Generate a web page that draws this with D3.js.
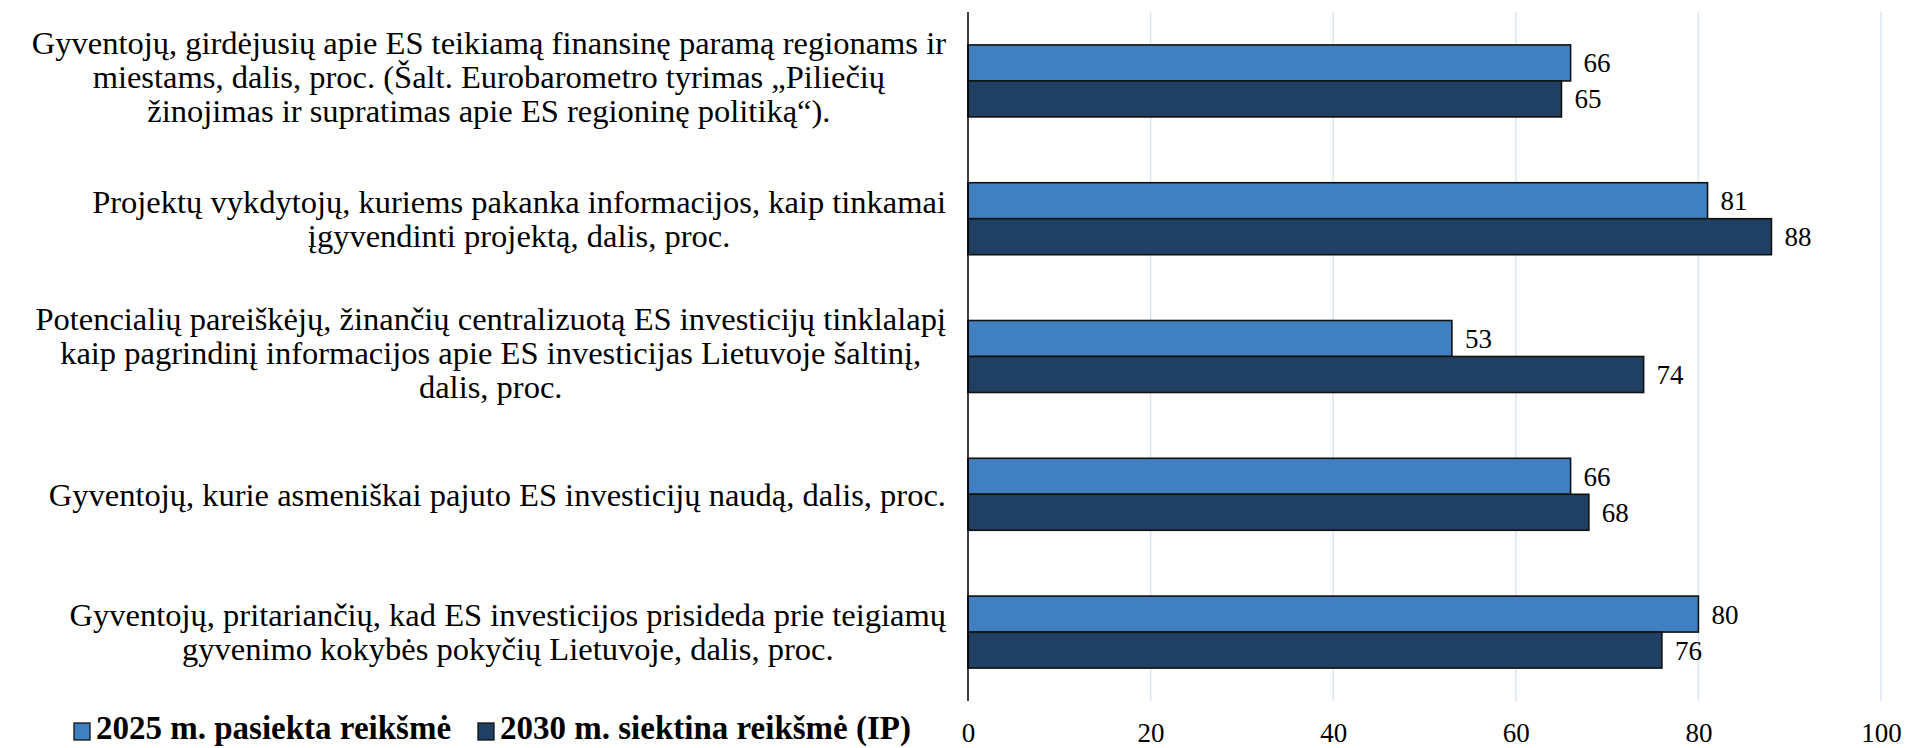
<!DOCTYPE html>
<html>
<head>
<meta charset="utf-8">
<script src="https://cdn.jsdelivr.net/npm/d3@7"></script>
<style>
  body { margin: 0; background: #fff; }
  svg text { font-family: "Liberation Serif", "Times New Roman", serif; fill: #000; }
</style>
</head>
<body>
<div class="chart"></div>
<script>
var width = 1919;
var height = 748;

// data
var categories = [
  ["Gyventojų, girdėjusių apie ES teikiamą finansinę paramą regionams ir",
   "miestams, dalis, proc. (Šalt. Eurobarometro tyrimas „Piliečių",
   "žinojimas ir supratimas apie ES regioninę politiką“)."],
  ["Projektų vykdytojų, kuriems pakanka informacijos, kaip tinkamai",
   "įgyvendinti projektą, dalis, proc."],
  ["Potencialių pareiškėjų, žinančių centralizuotą ES investicijų tinklalapį",
   "kaip pagrindinį informacijos apie ES investicijas Lietuvoje šaltinį,",
   "dalis, proc."],
  ["Gyventojų, kurie asmeniškai pajuto ES investicijų naudą, dalis, proc."],
  ["Gyventojų, pritariančių, kad ES investicijos prisideda prie teigiamų",
   "gyvenimo kokybės pokyčių Lietuvoje, dalis, proc."]
];
var seriesNames = ["2025 m. pasiekta reikšmė", "2030 m. siektina reikšmė (IP)"];
var values2025 = [66, 81, 53, 66, 80];
var values2030 = [65, 88, 74, 68, 76];
var xTicks = [0, 20, 40, 60, 80, 100];

var colors = ["#4080c1", "#204063"];

var svg = d3.select(".chart").append("svg")
  .attr("width", width)
  .attr("height", height);

var xScale = d3.scaleLinear().domain([0, 100]).range([968, 1881]);

var yScale = d3.scaleBand()
  .domain(d3.range(categories.length))
  .range([12, 701])
  .paddingInner(0.4775)
  .paddingOuter(0.239);

var subScale = d3.scaleBand()
  .domain([0, 1])
  .range([0, yScale.bandwidth()]);

// gridlines
svg.append("g")
  .selectAll("line")
  .data(xTicks.slice(1))
  .enter()
  .append("line")
  .attr("x1", (d) => xScale(d))
  .attr("x2", (d) => xScale(d))
  .attr("y1", 12)
  .attr("y2", 701)
  .style("stroke", "#dce6f2")
  .style("stroke-width", 1.5);

// x axis labels
var xAxis = d3.axisBottom(xScale).tickValues(xTicks).tickSize(0).tickPadding(0);
var xAxisGroup = svg.append("g")
  .attr("transform", "translate(0,742)")
  .call(xAxis);
xAxisGroup.select(".domain").remove();
xAxisGroup.selectAll("text")
  .style("font-family", '"Liberation Serif", serif')
  .style("font-size", "27px")
  .attr("y", 0)
  .attr("dy", "0");

// bars
var rows = categories.map((c, i) => ({ i: i, vals: [values2025[i], values2030[i]] }));

var groups = svg.selectAll(".grp")
  .data(rows)
  .enter()
  .append("g")
  .attr("class", "grp")
  .attr("transform", (d) => "translate(0," + yScale(d.i) + ")");

groups.selectAll("rect")
  .data((d) => d.vals.map((v, s) => ({ v: v, s: s })))
  .enter()
  .append("rect")
  .attr("x", xScale(0))
  .attr("y", (d) => subScale(d.s))
  .attr("width", (d) => xScale(d.v) - xScale(0))
  .attr("height", subScale.bandwidth())
  .style("fill", (d) => colors[d.s])
  .style("stroke", "#111")
  .style("stroke-width", 1.6);

groups.selectAll(".val")
  .data((d) => d.vals.map((v, s) => ({ v: v, s: s })))
  .enter()
  .append("text")
  .attr("class", "val")
  .attr("x", (d) => xScale(d.v) + 13)
  .attr("y", (d) => subScale(d.s) + subScale.bandwidth() / 2)
  .attr("dy", "0.35em")
  .style("font-size", "27px")
  .text((d) => d.v);

// axis line
svg.append("line")
  .attr("x1", xScale(0))
  .attr("x2", xScale(0))
  .attr("y1", 12)
  .attr("y2", 701)
  .style("stroke", "#000")
  .style("stroke-width", 1.5);

// category labels: block right aligned, lines centred inside the block
var lineH = 34;
var labelRight = 946;
rows.forEach(function (r) {
  var lines = categories[r.i];
  var cy = yScale(r.i) + yScale.bandwidth() / 2;
  if (lines.length > 2) cy -= 4;
  var g = svg.append("g");
  var texts = lines.map(function (t, k) {
    return g.append("text")
      .attr("y", cy + (k - (lines.length - 1) / 2) * lineH)
      .attr("dy", "0.35em")
      .style("font-size", "32.5px")
      .text(t);
  });
  var maxW = d3.max(texts, (t) => t.node().getComputedTextLength());
  texts.forEach(function (t) {
    t.attr("x", labelRight - maxW / 2).attr("text-anchor", "middle");
  });
});

// legend
var legend = svg.append("g").attr("id", "legend");
var legX = [74, 478];
seriesNames.forEach(function (name, s) {
  legend.append("rect")
    .attr("x", legX[s])
    .attr("y", 723)
    .attr("width", 16)
    .attr("height", 17)
    .style("fill", colors[s])
    .style("stroke", "#111")
    .style("stroke-width", 1.3);
  legend.append("text")
    .attr("x", legX[s] + 22)
    .attr("y", 739)
    .style("font-size", "33px")
    .style("font-weight", "bold")
    .text(name);
});
</script>
</body>
</html>
